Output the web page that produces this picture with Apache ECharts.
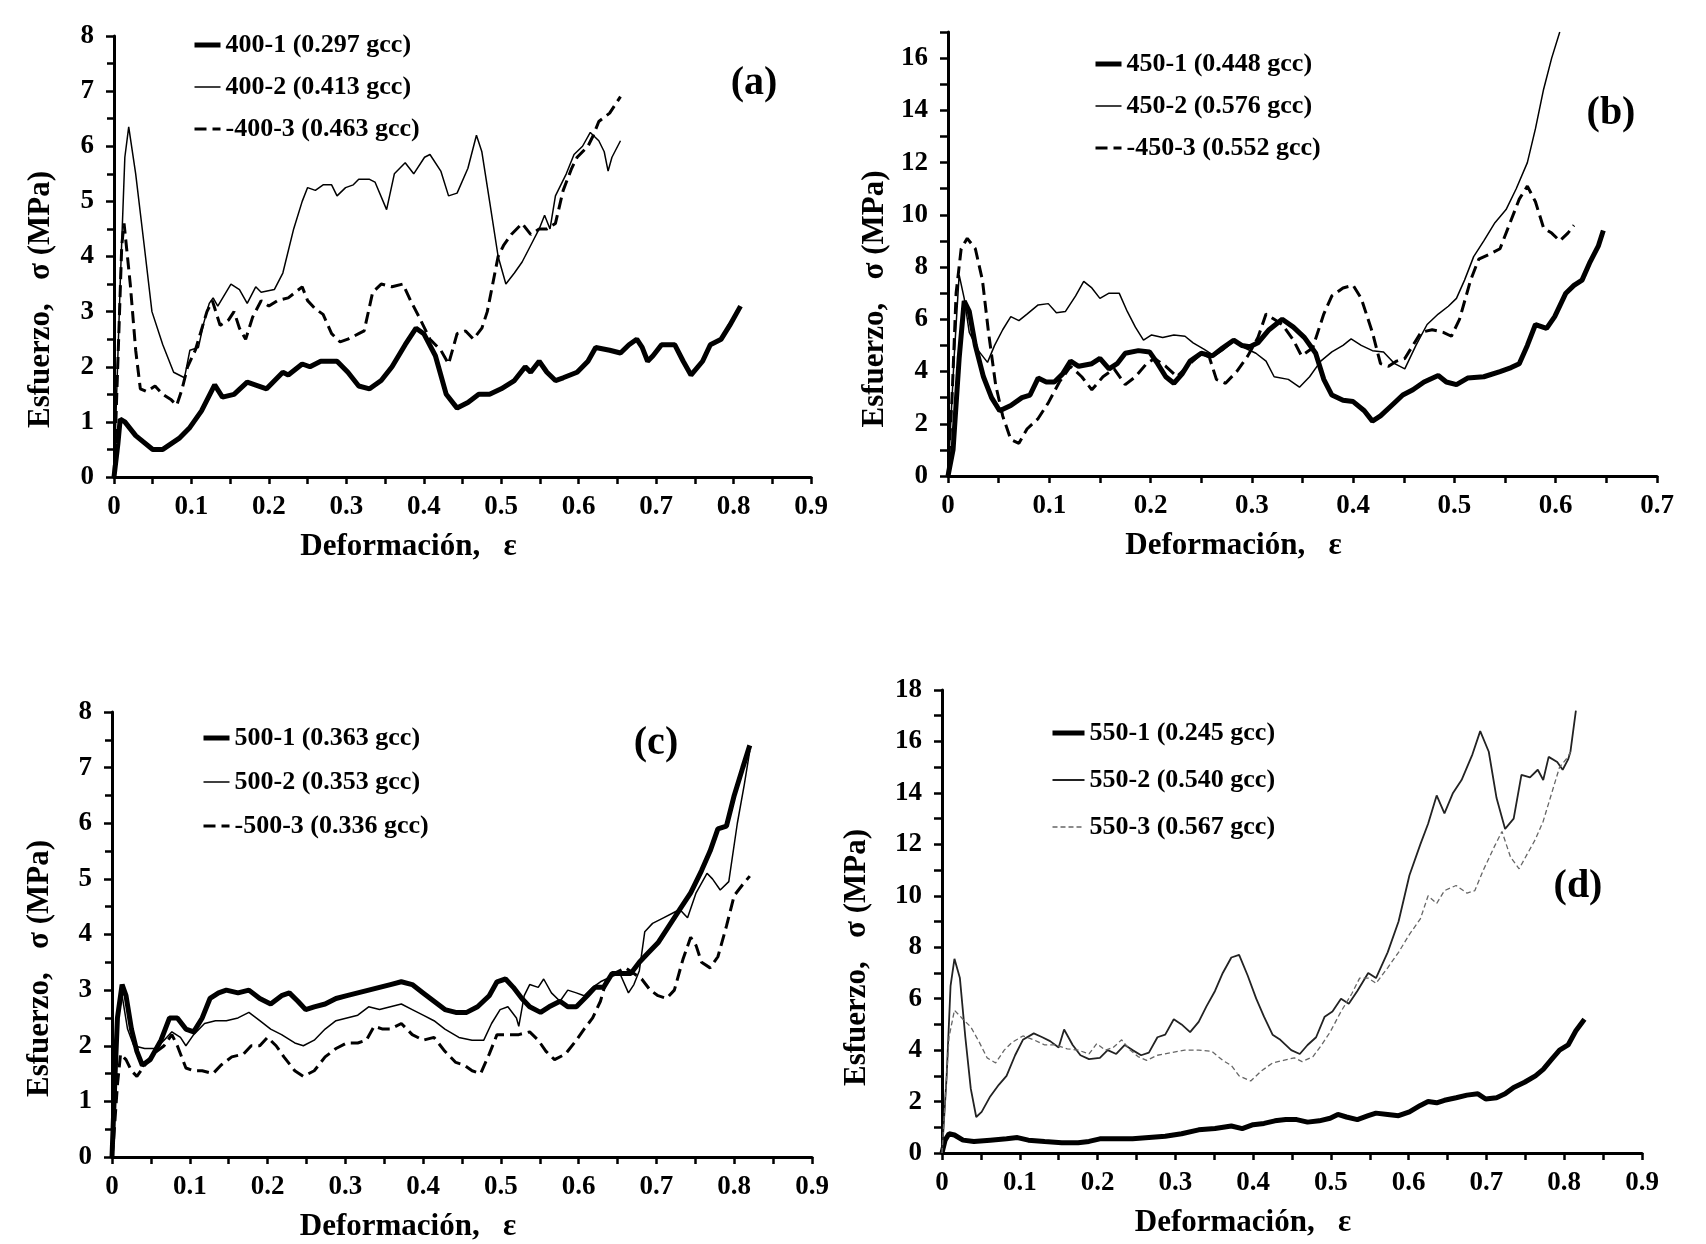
<!DOCTYPE html>
<html>
<head>
<meta charset="utf-8">
<script src="https://cdn.jsdelivr.net/npm/echarts@6/dist/echarts.min.js"></script>
<style>
  html, body { margin: 0; padding: 0; background: #fff; }
  #main { width: 1706px; height: 1244px; }
</style>
</head>
<body>
<div id="main"></div>
<script>
var chartDom = document.getElementById('main');
var myChart = echarts.init(chartDom);
var option;

// labels
let panelLabels = ['(a)', '(b)', '(c)', '(d)'];
let xName = 'Deformación,   ε';
let yName = 'Esfuerzo,   σ (MPa)';
let names400 = ['400-1 (0.297 gcc)', '400-2 (0.413 gcc)', '-400-3 (0.463 gcc)'];
let names450 = ['450-1 (0.448 gcc)', '450-2 (0.576 gcc)', '-450-3 (0.552 gcc)'];
let names500 = ['500-1 (0.363 gcc)', '500-2 (0.353 gcc)', '-500-3 (0.336 gcc)'];
let names550 = ['550-1 (0.245 gcc)', '550-2 (0.540 gcc)', '550-3 (0.567 gcc)'];

// axis ranges
let xMax = [0.9, 0.7, 0.9, 0.9];
let yMax = [8, 17, 8, 18];

// ---- panel (a) 400 ----
let s400_1 = [[0,0],[0.005,0.6],[0.008,1.05],[0.014,1.0],[0.028,0.75],[0.05,0.5],[0.063,0.5],[0.084,0.7],[0.098,0.9],[0.113,1.2],[0.13,1.67],[0.14,1.45],[0.155,1.5],[0.172,1.72],[0.197,1.6],[0.218,1.9],[0.225,1.85],[0.243,2.05],[0.253,2.0],[0.267,2.1],[0.288,2.1],[0.302,1.9],[0.316,1.65],[0.33,1.6],[0.345,1.75],[0.359,2.0],[0.376,2.4],[0.39,2.7],[0.40,2.6],[0.415,2.2],[0.429,1.5],[0.443,1.25],[0.457,1.35],[0.471,1.5],[0.485,1.5],[0.5,1.6],[0.517,1.75],[0.531,2.0],[0.538,1.9],[0.549,2.1],[0.559,1.9],[0.57,1.75],[0.58,1.8],[0.598,1.9],[0.612,2.1],[0.622,2.35],[0.64,2.3],[0.654,2.25],[0.665,2.4],[0.675,2.5],[0.682,2.35],[0.689,2.1],[0.696,2.2],[0.707,2.4],[0.724,2.4],[0.735,2.1],[0.745,1.85],[0.76,2.1],[0.77,2.4],[0.784,2.5],[0.795,2.75],[0.809,3.1]];
let s400_2 = [[0,0],[0.008,3.5],[0.014,5.8],[0.019,6.35],[0.028,5.5],[0.039,4.2],[0.049,3.0],[0.063,2.4],[0.077,1.9],[0.091,1.8],[0.098,2.3],[0.109,2.35],[0.116,2.8],[0.123,3.15],[0.128,3.25],[0.134,3.1],[0.151,3.5],[0.162,3.4],[0.172,3.15],[0.183,3.45],[0.19,3.35],[0.207,3.4],[0.218,3.7],[0.232,4.5],[0.243,5.0],[0.25,5.25],[0.26,5.2],[0.27,5.3],[0.281,5.3],[0.288,5.1],[0.299,5.25],[0.309,5.3],[0.316,5.4],[0.33,5.4],[0.337,5.35],[0.352,4.85],[0.362,5.5],[0.376,5.7],[0.387,5.5],[0.401,5.8],[0.408,5.85],[0.422,5.55],[0.432,5.1],[0.443,5.15],[0.457,5.6],[0.468,6.2],[0.475,5.9],[0.485,5.0],[0.496,4.0],[0.506,3.5],[0.517,3.7],[0.527,3.9],[0.538,4.2],[0.549,4.5],[0.556,4.75],[0.563,4.5],[0.57,5.1],[0.584,5.5],[0.594,5.85],[0.605,6.0],[0.615,6.25],[0.626,6.1],[0.633,5.9],[0.638,5.55],[0.643,5.8],[0.654,6.1]];
let s400_3 = [[0,0],[0.006,2.5],[0.01,4.2],[0.013,4.6],[0.021,3.5],[0.028,2.3],[0.034,1.6],[0.042,1.55],[0.053,1.65],[0.063,1.5],[0.074,1.4],[0.081,1.3],[0.088,1.6],[0.095,2.0],[0.105,2.3],[0.12,3.0],[0.127,3.2],[0.137,2.75],[0.148,2.85],[0.155,3.0],[0.162,2.7],[0.17,2.5],[0.179,2.9],[0.19,3.2],[0.2,3.1],[0.211,3.2],[0.225,3.25],[0.243,3.45],[0.25,3.2],[0.26,3.05],[0.27,2.95],[0.281,2.6],[0.292,2.45],[0.302,2.5],[0.316,2.6],[0.323,2.65],[0.334,3.35],[0.345,3.5],[0.359,3.45],[0.373,3.5],[0.383,3.2],[0.394,2.9],[0.408,2.5],[0.422,2.3],[0.432,2.05],[0.443,2.6],[0.454,2.65],[0.464,2.5],[0.475,2.7],[0.482,3.0],[0.489,3.5],[0.496,4.0],[0.503,4.2],[0.513,4.4],[0.527,4.6],[0.538,4.4],[0.549,4.5],[0.559,4.5],[0.57,4.6],[0.58,5.2],[0.591,5.6],[0.598,5.8],[0.612,6.0],[0.619,6.2],[0.626,6.45],[0.64,6.6],[0.654,6.9]];

// ---- panel (b) 450 ----
let s450_1 = [[0,0],[0.005,1.0],[0.011,4.5],[0.016,6.7],[0.021,6.3],[0.027,5.0],[0.035,3.8],[0.043,3.0],[0.051,2.5],[0.062,2.7],[0.073,3.0],[0.081,3.1],[0.089,3.75],[0.097,3.6],[0.105,3.6],[0.113,3.9],[0.121,4.4],[0.129,4.2],[0.142,4.3],[0.15,4.5],[0.159,4.1],[0.167,4.3],[0.175,4.7],[0.188,4.8],[0.199,4.75],[0.207,4.3],[0.215,3.8],[0.223,3.55],[0.231,3.9],[0.239,4.4],[0.25,4.7],[0.261,4.6],[0.271,4.9],[0.282,5.2],[0.29,5.0],[0.298,4.95],[0.306,5.1],[0.317,5.6],[0.33,6.0],[0.341,5.7],[0.352,5.3],[0.363,4.7],[0.371,3.7],[0.379,3.1],[0.39,2.9],[0.4,2.85],[0.411,2.5],[0.419,2.1],[0.427,2.3],[0.438,2.7],[0.449,3.1],[0.459,3.3],[0.47,3.6],[0.484,3.85],[0.492,3.6],[0.502,3.5],[0.513,3.75],[0.529,3.8],[0.545,4.0],[0.556,4.15],[0.564,4.3],[0.572,5.0],[0.58,5.8],[0.591,5.65],[0.599,6.1],[0.61,7.0],[0.618,7.3],[0.626,7.5],[0.634,8.2],[0.642,8.8],[0.647,9.4]];
let s450_2 = [[0,0],[0.006,4.5],[0.011,7.7],[0.016,6.8],[0.021,5.5],[0.03,4.8],[0.039,4.35],[0.046,5.0],[0.054,5.6],[0.062,6.1],[0.07,5.95],[0.078,6.2],[0.089,6.55],[0.099,6.6],[0.107,6.25],[0.116,6.3],[0.126,6.9],[0.134,7.45],[0.142,7.2],[0.15,6.8],[0.159,7.0],[0.169,7.0],[0.177,6.3],[0.185,5.7],[0.193,5.2],[0.201,5.4],[0.212,5.3],[0.223,5.4],[0.234,5.35],[0.242,5.1],[0.253,4.85],[0.263,4.6],[0.271,4.8],[0.282,5.15],[0.293,4.9],[0.304,4.7],[0.314,4.4],[0.322,3.8],[0.336,3.7],[0.347,3.4],[0.357,3.8],[0.368,4.4],[0.379,4.75],[0.39,5.0],[0.398,5.25],[0.408,5.0],[0.419,4.8],[0.43,4.75],[0.441,4.3],[0.451,4.1],[0.462,5.0],[0.473,5.8],[0.484,6.2],[0.494,6.5],[0.502,6.8],[0.51,7.5],[0.519,8.4],[0.529,9.0],[0.54,9.7],[0.551,10.2],[0.561,11.0],[0.572,12.0],[0.58,13.3],[0.588,14.8],[0.596,16.0],[0.604,17.0]];
let s450_3 = [[0,0],[0.004,3.0],[0.008,7.0],[0.013,8.7],[0.019,9.1],[0.027,8.7],[0.034,7.5],[0.04,5.5],[0.047,3.5],[0.054,2.3],[0.062,1.4],[0.07,1.25],[0.078,1.8],[0.089,2.2],[0.099,2.8],[0.11,3.6],[0.121,4.2],[0.132,3.8],[0.142,3.3],[0.153,3.8],[0.164,4.1],[0.175,3.5],[0.185,3.8],[0.196,4.3],[0.204,4.5],[0.215,4.2],[0.226,3.8],[0.239,4.3],[0.25,4.7],[0.258,4.55],[0.265,3.7],[0.274,3.55],[0.285,4.0],[0.296,4.6],[0.306,5.3],[0.314,6.2],[0.322,6.0],[0.33,5.8],[0.341,5.2],[0.349,4.6],[0.36,4.9],[0.371,6.2],[0.379,6.9],[0.39,7.2],[0.4,7.3],[0.408,6.8],[0.419,5.5],[0.427,4.3],[0.435,4.2],[0.443,4.4],[0.451,4.5],[0.459,5.0],[0.467,5.5],[0.478,5.6],[0.489,5.5],[0.497,5.35],[0.505,6.0],[0.516,7.5],[0.524,8.3],[0.535,8.5],[0.545,8.7],[0.556,9.8],[0.564,10.6],[0.572,11.1],[0.58,10.5],[0.588,9.5],[0.596,9.3],[0.604,9.0],[0.612,9.3],[0.618,9.6]];

// ---- panel (c) 500 ----
let s500_1 = [[0,0],[0.004,1.5],[0.007,2.5],[0.013,3.1],[0.018,2.9],[0.025,2.3],[0.032,1.9],[0.039,1.65],[0.049,1.75],[0.063,2.1],[0.074,2.5],[0.084,2.5],[0.095,2.3],[0.105,2.25],[0.116,2.5],[0.126,2.85],[0.137,2.95],[0.147,3.0],[0.162,2.95],[0.176,3.0],[0.19,2.85],[0.204,2.75],[0.218,2.9],[0.228,2.95],[0.239,2.8],[0.249,2.65],[0.26,2.7],[0.274,2.75],[0.288,2.85],[0.302,2.9],[0.316,2.95],[0.33,3.0],[0.344,3.05],[0.358,3.1],[0.372,3.15],[0.386,3.1],[0.4,2.95],[0.414,2.8],[0.428,2.65],[0.442,2.6],[0.456,2.6],[0.47,2.7],[0.485,2.9],[0.495,3.15],[0.506,3.2],[0.516,3.05],[0.527,2.85],[0.537,2.7],[0.551,2.6],[0.562,2.7],[0.576,2.8],[0.586,2.7],[0.597,2.7],[0.611,2.9],[0.621,3.05],[0.632,3.05],[0.643,3.3],[0.653,3.3],[0.667,3.3],[0.678,3.5],[0.688,3.65],[0.702,3.85],[0.716,4.15],[0.73,4.45],[0.744,4.75],[0.758,5.15],[0.769,5.5],[0.779,5.9],[0.79,5.95],[0.8,6.5],[0.811,7.0],[0.82,7.4]];
let s500_2 = [[0,0],[0.004,1.2],[0.008,2.5],[0.013,2.9],[0.02,2.3],[0.028,2.0],[0.042,1.95],[0.056,1.95],[0.067,2.1],[0.077,2.25],[0.088,2.15],[0.095,2.0],[0.105,2.2],[0.119,2.4],[0.133,2.45],[0.147,2.45],[0.162,2.5],[0.176,2.6],[0.19,2.45],[0.204,2.3],[0.218,2.2],[0.235,2.05],[0.246,2.0],[0.26,2.1],[0.274,2.3],[0.288,2.45],[0.302,2.5],[0.316,2.55],[0.33,2.7],[0.344,2.65],[0.358,2.7],[0.372,2.75],[0.386,2.65],[0.4,2.55],[0.414,2.45],[0.428,2.3],[0.446,2.15],[0.463,2.1],[0.478,2.1],[0.488,2.4],[0.499,2.65],[0.509,2.7],[0.52,2.5],[0.523,2.35],[0.53,2.9],[0.537,3.1],[0.548,3.05],[0.555,3.2],[0.565,2.95],[0.576,2.8],[0.586,3.0],[0.597,2.95],[0.607,2.9],[0.618,3.05],[0.628,3.15],[0.643,3.25],[0.653,3.3],[0.664,2.95],[0.671,3.1],[0.678,3.35],[0.685,4.05],[0.695,4.2],[0.709,4.3],[0.723,4.4],[0.73,4.45],[0.74,4.3],[0.751,4.75],[0.765,5.1],[0.772,5.0],[0.782,4.8],[0.793,4.95],[0.804,6.0],[0.813,6.7],[0.82,7.3]];
let s500_3 = [[0,0],[0.002,0.3],[0.007,1.3],[0.011,1.85],[0.018,1.75],[0.025,1.55],[0.032,1.45],[0.042,1.65],[0.053,1.85],[0.067,2.0],[0.077,2.2],[0.084,2.0],[0.095,1.6],[0.105,1.55],[0.116,1.55],[0.13,1.5],[0.14,1.65],[0.154,1.8],[0.169,1.85],[0.179,2.0],[0.19,2.0],[0.2,2.15],[0.211,2.0],[0.221,1.8],[0.235,1.55],[0.246,1.45],[0.26,1.55],[0.274,1.8],[0.288,1.95],[0.302,2.05],[0.316,2.05],[0.327,2.1],[0.337,2.35],[0.348,2.3],[0.358,2.3],[0.372,2.4],[0.386,2.2],[0.4,2.1],[0.414,2.15],[0.428,1.9],[0.442,1.7],[0.453,1.65],[0.463,1.55],[0.474,1.5],[0.485,1.85],[0.495,2.2],[0.509,2.2],[0.523,2.2],[0.537,2.25],[0.548,2.1],[0.558,1.9],[0.569,1.75],[0.583,1.85],[0.597,2.1],[0.607,2.3],[0.618,2.5],[0.628,2.8],[0.636,3.2],[0.646,3.3],[0.66,3.4],[0.671,3.3],[0.681,3.2],[0.692,3.0],[0.702,2.9],[0.713,2.85],[0.723,3.0],[0.734,3.55],[0.744,3.95],[0.751,3.8],[0.758,3.5],[0.769,3.4],[0.779,3.6],[0.79,4.15],[0.8,4.7],[0.811,4.9],[0.82,5.05]];

// ---- panel (d) 550 ----
let s550_1 = [[0,0],[0.004,0.5],[0.009,0.75],[0.016,0.7],[0.027,0.5],[0.041,0.45],[0.062,0.5],[0.083,0.55],[0.097,0.6],[0.111,0.5],[0.132,0.45],[0.154,0.4],[0.175,0.4],[0.189,0.45],[0.203,0.55],[0.224,0.55],[0.245,0.55],[0.266,0.6],[0.287,0.65],[0.308,0.75],[0.33,0.9],[0.351,0.95],[0.372,1.05],[0.386,0.95],[0.4,1.1],[0.414,1.15],[0.428,1.25],[0.442,1.3],[0.456,1.3],[0.47,1.2],[0.485,1.25],[0.499,1.35],[0.509,1.5],[0.52,1.4],[0.534,1.3],[0.548,1.45],[0.558,1.55],[0.573,1.5],[0.587,1.45],[0.601,1.6],[0.615,1.85],[0.625,2.0],[0.636,1.95],[0.646,2.05],[0.661,2.15],[0.675,2.25],[0.689,2.3],[0.699,2.1],[0.713,2.15],[0.724,2.3],[0.735,2.55],[0.749,2.75],[0.763,3.0],[0.773,3.25],[0.784,3.65],[0.794,4.0],[0.805,4.2],[0.815,4.75],[0.826,5.2]];
let s550_2 = [[0,0],[0.006,3.0],[0.011,6.5],[0.016,7.55],[0.023,6.8],[0.03,4.5],[0.037,2.5],[0.044,1.4],[0.051,1.6],[0.062,2.2],[0.073,2.65],[0.083,3.0],[0.094,3.8],[0.104,4.4],[0.118,4.65],[0.129,4.5],[0.139,4.35],[0.15,4.1],[0.157,4.8],[0.168,4.2],[0.178,3.8],[0.189,3.65],[0.203,3.7],[0.213,4.0],[0.224,3.85],[0.235,4.2],[0.245,4.0],[0.256,3.8],[0.266,3.9],[0.277,4.5],[0.287,4.6],[0.298,5.2],[0.308,5.0],[0.319,4.7],[0.33,5.1],[0.34,5.7],[0.351,6.3],[0.361,7.0],[0.372,7.6],[0.382,7.7],[0.393,6.9],[0.404,6.0],[0.414,5.3],[0.425,4.6],[0.435,4.4],[0.449,4.0],[0.46,3.85],[0.47,4.2],[0.481,4.5],[0.492,5.3],[0.502,5.5],[0.513,6.0],[0.523,5.8],[0.534,6.3],[0.548,7.0],[0.558,6.8],[0.573,7.8],[0.587,9.0],[0.601,10.8],[0.615,12.0],[0.625,12.8],[0.636,13.9],[0.646,13.2],[0.657,14.0],[0.668,14.5],[0.682,15.5],[0.692,16.4],[0.703,15.6],[0.713,13.8],[0.724,12.6],[0.735,13.0],[0.745,14.7],[0.756,14.6],[0.766,14.9],[0.773,14.5],[0.78,15.4],[0.791,15.2],[0.798,14.9],[0.805,15.3],[0.808,15.6],[0.815,17.2]];
let s550_3 = [[0,0],[0.009,4.5],[0.016,5.55],[0.027,5.2],[0.037,4.9],[0.048,4.3],[0.058,3.7],[0.069,3.5],[0.08,4.0],[0.09,4.3],[0.104,4.55],[0.118,4.4],[0.132,4.2],[0.146,4.2],[0.161,4.05],[0.175,4.0],[0.189,3.85],[0.199,4.25],[0.21,4.0],[0.22,4.1],[0.231,4.4],[0.242,4.0],[0.252,3.75],[0.263,3.6],[0.277,3.8],[0.294,3.9],[0.312,4.0],[0.33,4.0],[0.347,3.95],[0.361,3.6],[0.372,3.4],[0.382,3.0],[0.397,2.8],[0.411,3.2],[0.425,3.5],[0.439,3.6],[0.453,3.7],[0.463,3.55],[0.477,3.75],[0.488,4.2],[0.499,4.7],[0.513,5.5],[0.527,6.2],[0.537,6.8],[0.548,6.8],[0.558,6.6],[0.573,7.2],[0.587,7.8],[0.601,8.5],[0.615,9.1],[0.625,10.0],[0.636,9.7],[0.646,10.2],[0.661,10.4],[0.675,10.1],[0.685,10.2],[0.696,11.0],[0.71,11.9],[0.72,12.5],[0.731,11.5],[0.742,11.05],[0.752,11.6],[0.763,12.2],[0.773,12.9],[0.784,14.0],[0.794,15.0],[0.805,15.4],[0.808,15.6]];

let font = "'Liberation Serif', 'Times New Roman', serif";

let styles = {
  thick: { color: '#000', width: 5, type: 'solid' },
  thin: { color: '#000', width: 1.5, type: 'solid' },
  dash: { color: '#000', width: 3, type: [12, 6] },
  thinDark: { color: '#222', width: 1.8, type: 'solid' },
  grayDash: { color: '#666', width: 1.3, type: [5, 3] }
};

let grids = [
  { left: 114, right: 895, top: 36, bottom: 767 },
  { left: 948, right: 49, top: 32, bottom: 768 },
  { left: 112, right: 894, top: 712, bottom: 87 },
  { left: 942, right: 64, top: 690, bottom: 91 }
];

// shifts for the axis names, as padding on the far side
let xNamePad = [108, 138, 108, 98];
let yNamePad = [86, 90, 68, 72];
let yNameGap = [58, 58, 57, 70];

function makeX(i) {
  return {
    type: 'value', gridIndex: i, min: 0, max: xMax[i], interval: 0.1,
    name: xName, nameLocation: 'middle', nameGap: 54,
    nameTextStyle: { fontFamily: font, fontWeight: 'bold', fontSize: 31, color: '#000', padding: [0, xNamePad[i], 0, 0] },
    axisLine: { lineStyle: { color: '#000', width: 3 } },
    axisTick: { length: 7, lineStyle: { color: '#000', width: 2.5 } },
    minorTick: { show: true, splitNumber: 2, length: 7, lineStyle: { color: '#000', width: 2.5 } },
    splitLine: { show: false },
    axisLabel: {
      fontFamily: font, fontWeight: 'bold', fontSize: 27, color: '#000', margin: 17,
      formatter: function (v) { return v === 0 ? '0' : v.toFixed(1); }
    }
  };
}

function makeY(i) {
  let big = yMax[i] > 10;
  return {
    type: 'value', gridIndex: i, min: 0, max: yMax[i], interval: 1,
    name: yName, nameLocation: 'middle', nameGap: yNameGap[i], nameRotate: 90,
    nameTextStyle: { fontFamily: font, fontWeight: 'bold', fontSize: 31, color: '#000', padding: [0, yNamePad[i], 0, 0] },
    axisLine: { lineStyle: { color: '#000', width: 3 } },
    axisTick: { length: 8, lineStyle: { color: '#000', width: 2.5 } },
    minorTick: { show: !big, splitNumber: 2, length: 7, lineStyle: { color: '#000', width: 2.5 } },
    splitLine: { show: false },
    axisLabel: {
      fontFamily: font, fontWeight: 'bold', fontSize: 27, color: '#000', margin: 20,
      formatter: function (v) {
        if (big) return (v % 2 === 0) ? String(v) : '';
        return String(v);
      }
    }
  };
}

function line(name, data, i, st) {
  return {
    name: name, type: 'line', xAxisIndex: i, yAxisIndex: i,
    data: data, showSymbol: false, symbol: 'none', animation: false,
    color: st.color,
    itemStyle: { color: st.color },
    lineStyle: st
  };
}

let series = [
  line(names400[0], s400_1, 0, styles.thick),
  line(names400[1], s400_2, 0, styles.thin),
  line(names400[2], s400_3, 0, styles.dash),
  line(names450[0], s450_1, 1, styles.thick),
  line(names450[1], s450_2, 1, styles.thin),
  line(names450[2], s450_3, 1, styles.dash),
  line(names500[0], s500_1, 2, styles.thick),
  line(names500[1], s500_2, 2, styles.thin),
  line(names500[2], s500_3, 2, styles.dash),
  line(names550[0], s550_1, 3, styles.thick),
  line(names550[1], s550_2, 3, styles.thinDark),
  line(names550[2], s550_3, 3, styles.grayDash)
];

function legendAt(names, left, top, gap, w) {
  return {
    data: names, orient: 'vertical', left: left, top: top,
    itemWidth: w, itemHeight: 14, itemGap: gap, selectedMode: false,
    lineStyle: { width: 'inherit' },
    itemStyle: { color: 'rgba(0,0,0,0)', borderColor: 'rgba(0,0,0,0)', borderWidth: 0 },
    textStyle: { fontFamily: font, fontWeight: 'bold', fontSize: 26, color: '#000', lineHeight: 25 }
  };
}

let labelPos = [[754, 84], [1611, 114], [656, 744], [1578, 887]];

option = {
  backgroundColor: '#fff',
  animation: false,
  grid: grids,
  xAxis: [0, 1, 2, 3].map(makeX),
  yAxis: [0, 1, 2, 3].map(makeY),
  legend: [
    legendAt(names400, 187, 27, 16, 26),
    legendAt(names450, 1088, 46, 16, 26),
    legendAt(names500, 196, 720, 18, 26),
    legendAt(names550, 1045, 715, 21, 32)
  ],
  graphic: labelPos.map(function (p, k) {
    return {
      type: 'text', x: p[0], y: p[1],
      style: { text: panelLabels[k], fontFamily: font, fontWeight: 'bold', fontSize: 40, fill: '#000', align: 'center', verticalAlign: 'middle' }
    };
  }),
  series: series
};

option && myChart.setOption(option);
</script>
</body>
</html>
